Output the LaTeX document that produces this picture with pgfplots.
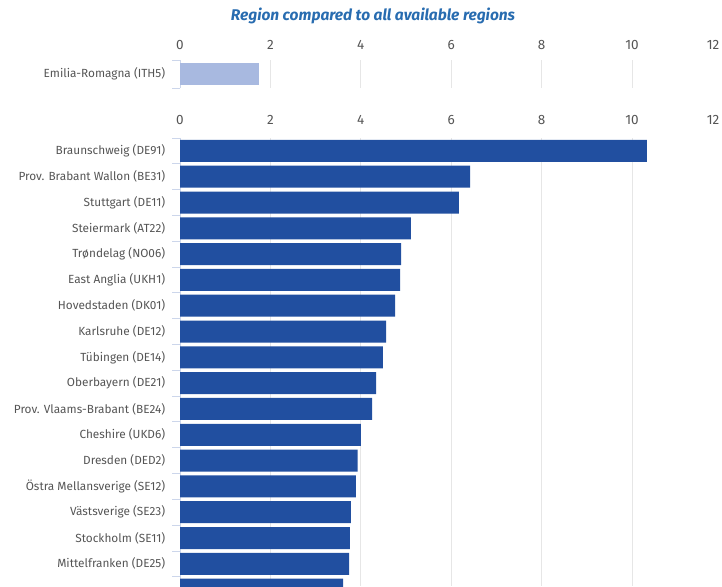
\documentclass[border=0pt]{standalone}
\usepackage{fontspec}
\setmainfont{Fira Sans}
\usepackage{pgfplots}
\pgfplotsset{compat=1.18}
\definecolor{barblue}{RGB}{33,79,160}
\definecolor{lightbar}{RGB}{168,185,224}
\definecolor{titleblue}{RGB}{40,108,176}
\definecolor{gridgray}{RGB}{230,230,230}
\definecolor{axisline}{RGB}{204,214,235}
\definecolor{labelgray}{RGB}{85,85,85}
\pgfplotsset{
  common/.style={
    scale only axis, width=542.4pt,
    xmin=0, xmax=12, xtick={0,2,...,12},
    xticklabels={0,2,4,6,8,10,{\llap{12\kern3pt}}},
    xticklabel pos=upper,
    /pgf/number format/assume math mode=true,
    xmajorgrids, grid style={gridgray, line width=0.8pt},
    axis y line*=left, axis x line*=top,
    x axis line style={draw=none},
    y axis line style={axisline, line width=0.8pt},
    major x tick style={draw=none},
    major y tick style={draw=none},
    minor y tick style={axisline, line width=0.8pt},
    minor tick length=8pt,
    tick align=outside,
    yticklabel style={font=\fontsize{11.8}{14}\selectfont, text=labelgray, xshift=-7pt},
    xticklabel style={font=\fontsize{13.5}{15}\selectfont, text=labelgray, anchor=base},
    xbar, bar width=22pt,
    clip=true,
  }
}
\begin{document}
\begin{tikzpicture}
\useasboundingbox (0,0) rectangle (722pt,586pt);
\node[font=\fontsize{15.5}{18}\selectfont\bfseries\itshape, text=titleblue] at (373pt,570pt) {Region compared to all available regions};
% top axis
\begin{axis}[common, at={(180pt,526pt)}, anchor=north west, height=28pt,
  ymin=0.5, ymax=1.5, ytick={1}, yticklabels={Emilia-Romagna (ITH5)},
  minor ytick={0.5,1.5},
  xticklabel style={yshift=6pt}]
\addplot[fill=lightbar, draw=none] coordinates {(1.75,1)};
\end{axis}
% main axis
\begin{axis}[common, at={(180pt,448pt)}, anchor=north west, height=448pt,
  y dir=reverse, ymin=0.5, ymax=17.86,
  ytick={1,...,17},
  yticklabels={Braunschweig (DE91),Prov. Brabant Wallon (BE31),Stuttgart (DE11),Steiermark (AT22),Trøndelag (NO06),East Anglia (UKH1),Hovedstaden (DK01),Karlsruhe (DE12),Tübingen (DE14),Oberbayern (DE21),Prov. Vlaams-Brabant (BE24),Cheshire (UKD6),Dresden (DED2),Östra Mellansverige (SE12),Västsverige (SE23),Stockholm (SE11),Mittelfranken (DE25)},
  minor ytick={0.5,1.5,...,17.5},
  xticklabel style={yshift=9pt}]
\addplot[fill=barblue, draw=none] coordinates {
(10.33,1) (6.42,2) (6.17,3) (5.11,4) (4.89,5) (4.87,6) (4.76,7) (4.56,8) (4.49,9)
(4.34,10) (4.25,11) (4.00,12) (3.93,13) (3.89,14) (3.78,15) (3.76,16) (3.74,17) (3.61,18)};
\end{axis}
\end{tikzpicture}
\end{document}
